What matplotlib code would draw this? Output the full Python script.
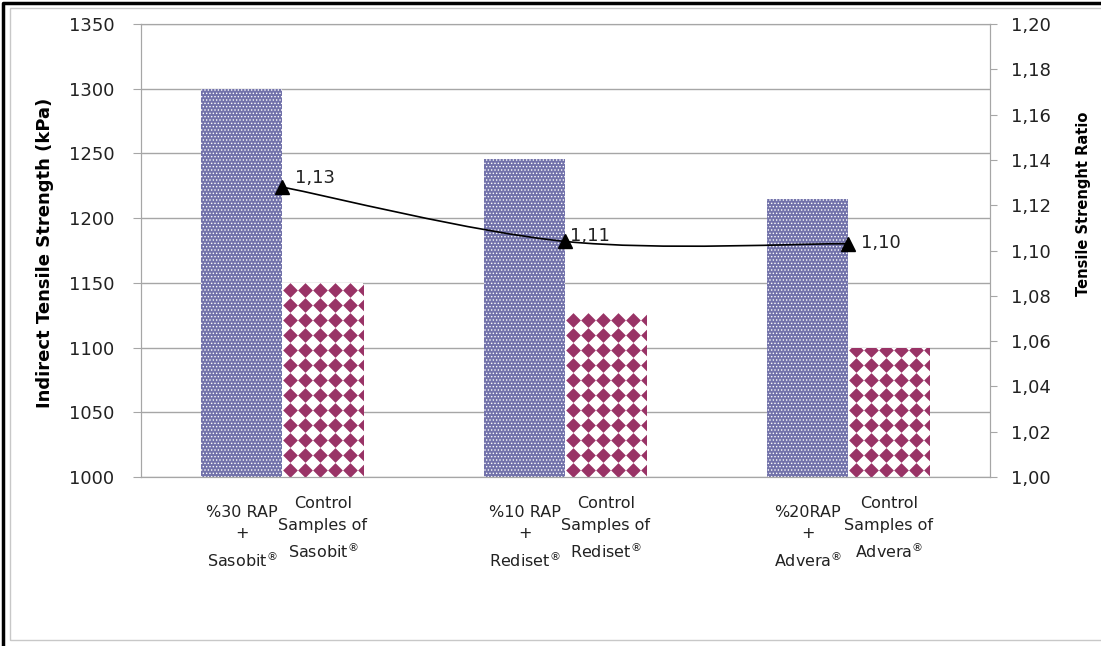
import matplotlib
matplotlib.use('Agg')
import matplotlib.pyplot as plt
from matplotlib.patches import Rectangle, PathPatch
from matplotlib.lines import Line2D
from matplotlib.path import Path
from matplotlib.ticker import FuncFormatter, MultipleLocator
import numpy as np

# data
groups = ['Sasobit', 'Rediset', 'Advera']
rap_labels = ['%30 RAP\n+\nSasobit$^{®}$', '%10 RAP\n+\nRediset$^{®}$', '%20RAP\n+\nAdvera$^{®}$']
ctrl_labels = ['Control\nSamples of\nSasobit$^{®}$', 'Control\nSamples of\nRediset$^{®}$',
               'Control\nSamples of\nAdvera$^{®}$']
rap_its = [1300, 1246, 1215]
ctrl_its = [1150, 1127, 1100]
tsr = [1.128, 1.104, 1.103]
tsr_labels = ['1,13', '1,11', '1,10']

plt.rcParams['font.family'] = ['DejaVu Sans']
comma = FuncFormatter(lambda v, p: f'{v:.2f}'.replace('.', ','))
txt = '#222222'
grid_c = '#a6a6a6'

fig = plt.figure(figsize=(11.01, 6.46), dpi=100)
ax = fig.add_axes([0.128, 0.2616, 0.771, 0.7012])
ax2 = ax.twinx()

x = np.arange(len(groups))
w = 0.286

with plt.rc_context({'hatch.linewidth': 0.6}):
    b1 = ax.bar(x - w / 2, [v - 1000 for v in rap_its], w, bottom=1000,
                color='#7272aa', edgecolor='white', linewidth=0, hatch='.....', zorder=2)
b2 = ax.bar(x + w / 2, [v - 1000 for v in ctrl_its], w, bottom=1000,
            color='white', linewidth=0, zorder=2)

ax.set_xlim(-0.5, 2.5)
ax.set_ylim(1000, 1350)

# diamond pattern fill for the control bars (texture clipped to each bar)
dx = 15 / (0.771 * 1101) * 3.0      # 15 px in data units
dy = 15 / (0.7012 * 646) * 350.0
for p in b2:
    x0, y0 = p.get_x(), p.get_y()
    xs = np.arange(x0 + dx / 2, x0 + p.get_width() + dx, dx)
    ys = np.arange(y0 + dy / 2, y0 + p.get_height() + dy, dy)
    gx, gy = np.meshgrid(xs, ys)
    sc = ax.scatter(gx.ravel(), gy.ravel(), s=56, marker='D', color='#993366',
                    linewidths=0, zorder=3)
    sc.set_clip_path(p)

ax.yaxis.set_major_locator(MultipleLocator(50))
ax.grid(axis='y', color=grid_c, lw=1, zorder=0)
ax.set_axisbelow(True)
ax.set_xticks([])
for s in ax.spines.values():
    s.set_color(grid_c)
ax.tick_params(axis='y', direction='out', length=6, color=grid_c, pad=13,
               labelsize=13, labelcolor=txt)
ax.set_ylabel('Indirect Tensile Strength (kPa)', fontweight='bold',
              fontsize=13, color='black')
ax.yaxis.set_label_coords(-0.102, 0.495)

# smoothed line (Excel style bezier through the points)
pts = np.column_stack([x, tsr])
verts = [pts[0]]
codes = [Path.MOVETO]
n = len(pts)
for i in range(n - 1):
    p_prev = pts[max(i - 1, 0)]
    p_next2 = pts[min(i + 2, n - 1)]
    c1 = pts[i] + (pts[i + 1] - p_prev) / 6
    c2 = pts[i + 1] - (p_next2 - pts[i]) / 6
    verts += [c1, c2, pts[i + 1]]
    codes += [Path.CURVE4] * 3
ax2.add_patch(PathPatch(Path(verts, codes), fill=False, edgecolor='black', lw=1.2, zorder=3))
ax2.plot(x, tsr, ls='none', marker='^', ms=10, color='black', zorder=4)
offsets = [(9, 6.5), (3, 3.6), (9, 0.7)]
for xi, yi, lab, off in zip(x, tsr, tsr_labels, offsets):
    ax2.annotate(lab, (xi, yi), xytext=off, textcoords='offset points',
                 fontsize=13, color=txt, va='center', ha='left')

ax2.set_ylim(1.0, 1.2)
ax2.yaxis.set_major_locator(MultipleLocator(0.02))
ax2.yaxis.set_major_formatter(comma)
for s in ax2.spines.values():
    s.set_color(grid_c)
ax2.tick_params(axis='y', direction='out', length=5, color=grid_c, pad=10,
                labelsize=13, labelcolor=txt)
ax2.set_ylabel('Tensile Strenght Ratio', fontweight='bold', fontsize=10.5, color='black')
ax2.yaxis.set_label_coords(1.101, 0.603)

# category labels under each bar
tr = ax.get_xaxis_transform()
for xi, rl, cl in zip(x, rap_labels, ctrl_labels):
    ax.annotate(rl, (xi - w / 2, 0), xycoords=tr, xytext=(0, -20), textcoords='offset points',
                ha='center', va='top', fontsize=11.5, color=txt, linespacing=1.55)
    ax.annotate(cl, (xi + w / 2, 0), xycoords=tr, xytext=(0, -14), textcoords='offset points',
                ha='center', va='top', fontsize=11.5, color=txt, linespacing=1.55)

# chart frame
fig.patches.append(Rectangle((10 / 1101, 6 / 646), 1.0, 1 - 14 / 646, transform=fig.transFigure,
                             fill=False, edgecolor='#c8c8c8', lw=1))
fig.lines.append(Line2D([3 / 1101, 3 / 1101, 1.0], [0.0, 1 - 3 / 646, 1 - 3 / 646],
                        transform=fig.transFigure, color='black', lw=2.5))

fig.savefig('out.png', dpi=100)
